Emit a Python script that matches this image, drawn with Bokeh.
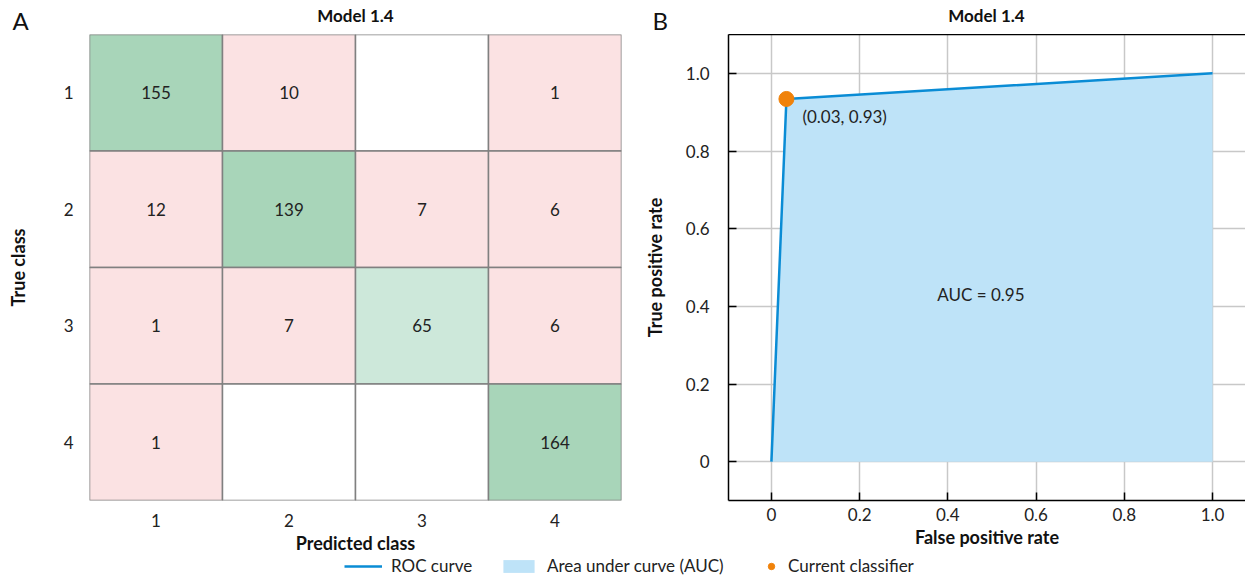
from bokeh.plotting import figure
from bokeh.layouts import column, row
from bokeh.models import (ColumnDataSource, Label, Legend, LegendItem, LinearAxis,
                          CustomJSTickFormatter, FixedTicker, Range1d)
from bokeh.core.properties import value
from bokeh.embed import file_html
from bokeh.resources import INLINE

# ---------------- data ----------------
classes = [1, 2, 3, 4]
counts = [
    [155, 10, 0, 1],
    [12, 139, 7, 6],
    [1, 7, 65, 6],
    [1, 0, 0, 164],
]
roc_fpr = [0.0, 0.034, 1.0]
roc_tpr = [0.0, 0.934, 1.0]
point_fpr = [0.034]
point_tpr = [0.934]
point_label = "(0.03, 0.93)"
auc_text = "AUC = 0.95"
auc_pos = (0.475, 0.43)
roc_ticks = [0, 0.2, 0.4, 0.6, 0.8, 1.0]
chart_title = "Model 1.4"
panel_letters = ["A", "B"]

FONT = "Lato"
TXT = "#222222"
GREEN = "#a8d5b9"
LIGHT_GREEN = "#cde8da"
PINK = "#fbe2e3"
BLUE = "#0a8cd5"
AREA = "#bee3f8"
ORANGE = "#f0820a"
FS = "17px"
FS_B = "18px"

# layout constants (pixels)
W_TOTAL, H_TOTAL = 1245, 577
TOP_H = 34          # strip with panel letters and titles
LEG_H = 21          # legend strip
ROW_H = H_TOTAL - TOP_H - LEG_H
WA, WB = 640, 605
A_LEFT, A_RIGHT = 89, 19
B_LEFT = 87
BOTTOM = 51

# ---------------- confusion matrix ----------------
xs, ys, vals, cols, labels = [], [], [], [], []
for i, r in enumerate(classes):
    for j, c in enumerate(classes):
        v = counts[i][j]
        xs.append(c)
        ys.append(r)
        vals.append(v)
        if v == 0:
            cols.append("#ffffff")
        elif i == j:
            cols.append(GREEN if v >= 100 else LIGHT_GREEN)
        else:
            cols.append(PINK)
        labels.append(str(v) if v else "")
src = ColumnDataSource(dict(x=xs, y=ys, v=vals, c=cols, t=labels))

pA = figure(width=WA, height=ROW_H, x_range=Range1d(0.5, 4.5), y_range=Range1d(4.5, 0.5),
            output_backend="svg", toolbar_location=None,
            min_border_left=A_LEFT, min_border_right=A_RIGHT, min_border_top=0,
            min_border_bottom=BOTTOM)
pA.rect(x="x", y="y", width=1, height=1, fill_color="c", line_color="#808080",
        line_width=1.5, source=src)
pA.text(x="x", y="y", text="t", text_align="center", text_baseline="middle",
        text_font=value(FONT), text_font_size=FS, text_color=TXT, source=src)
pA.grid.visible = False
pA.outline_line_color = None
for ax in (pA.xaxis[0], pA.yaxis[0]):
    ax.ticker = FixedTicker(ticks=classes)
    ax.axis_line_color = None
    ax.major_tick_line_color = None
    ax.minor_tick_line_color = None
    ax.major_label_text_font = FONT
    ax.major_label_text_font_size = FS
    ax.major_label_text_color = TXT
    ax.axis_label_text_font = FONT
    ax.axis_label_text_font_size = FS_B
    ax.axis_label_text_font_style = "bold"
    ax.axis_label_text_color = "#111111"
pA.xaxis.axis_label = "Predicted class"
pA.yaxis.axis_label = "True class"
pA.xaxis.major_label_standoff = 7
pA.xaxis.axis_label_standoff = 2
pA.yaxis.major_label_standoff = 10
pA.yaxis.axis_label_standoff = 32

# ---------------- ROC ----------------
pB = figure(width=WB, height=ROW_H, x_range=Range1d(-0.0973, 1.0747), y_range=Range1d(-0.1, 1.1),
            output_backend="svg", toolbar_location=None,
            min_border_left=B_LEFT, min_border_right=0, min_border_top=0,
            min_border_bottom=BOTTOM)
pB.outline_line_color = None
for ax in (pB.xaxis[0], pB.yaxis[0]):
    ax.ticker = FixedTicker(ticks=roc_ticks)
    ax.formatter = CustomJSTickFormatter(code="return tick == 0 ? '0' : tick.toFixed(1);")
    ax.axis_line_color = "black"
    ax.axis_line_width = 1.5
    ax.major_tick_in = 8
    ax.major_tick_out = 0
    ax.major_tick_line_color = "black"
    ax.major_tick_line_width = 1.5
    ax.minor_tick_line_color = None
    ax.major_label_text_font = FONT
    ax.major_label_text_font_size = FS
    ax.major_label_text_color = TXT
    ax.axis_label_text_font = FONT
    ax.axis_label_text_font_size = FS_B
    ax.axis_label_text_font_style = "bold"
    ax.axis_label_text_color = "#111111"
pB.xaxis[0].axis_label = "False positive rate"
pB.yaxis[0].axis_label = "True positive rate"
pB.xaxis[0].major_label_standoff = 7
pB.xaxis[0].axis_label_standoff = 2
pB.yaxis[0].major_label_standoff = 19
pB.yaxis[0].axis_label_standoff = 17
top = LinearAxis(ticker=FixedTicker(ticks=[]), major_tick_line_color=None,
                 minor_tick_line_color=None, axis_line_color="black", axis_line_width=1.5,
                 major_label_standoff=0, major_tick_in=0, major_tick_out=0,
                 minor_tick_in=0, minor_tick_out=0)
pB.add_layout(top, "above")
pB.grid.grid_line_color = "#c8c8c8"
pB.grid.grid_line_width = 1.5

pB.varea(x=roc_fpr, y1=[0] * len(roc_fpr), y2=roc_tpr, fill_color=AREA)
pB.line(x=roc_fpr, y=roc_tpr, line_color=BLUE, line_width=2.5)
pB.scatter(x=point_fpr, y=point_tpr, size=15, fill_color=ORANGE, line_color=ORANGE)
pB.add_layout(Label(x=point_fpr[0], y=point_tpr[0], x_offset=16, y_offset=-18, text=point_label,
                    text_font=FONT, text_font_size=FS, text_color=TXT,
                    text_baseline="middle", text_align="left"))
pB.add_layout(Label(x=auc_pos[0], y=auc_pos[1], text=auc_text, text_font=FONT,
                    text_font_size=FS, text_color=TXT, text_baseline="middle",
                    text_align="center"))

# ---------------- top strip: panel letters and titles ----------------
pT = figure(width=W_TOTAL, height=TOP_H, x_range=Range1d(0, 1), y_range=Range1d(0, 1),
            output_backend="svg", toolbar_location=None, min_border=0)
pT.axis.visible = False
pT.grid.visible = False
pT.outline_line_color = None
a_frame_w = WA - A_LEFT - A_RIGHT
b_frame_w = WB - B_LEFT
title_x = [A_LEFT + a_frame_w / 2, WA + B_LEFT + b_frame_w / 2]
letter_x = [12, WA + 12]
for lx, tx, letter in zip(letter_x, title_x, panel_letters):
    pT.add_layout(Label(x=lx, y=TOP_H - 19.5, x_units="screen", y_units="screen", text=letter,
                        text_font=FONT, text_font_size="24px", text_baseline="middle",
                        text_align="left", text_color="#111111"))
    pT.add_layout(Label(x=tx, y=TOP_H - 15, x_units="screen", y_units="screen",
                        text=chart_title, text_font=FONT, text_font_size=FS,
                        text_font_style="bold", text_baseline="middle", text_align="center",
                        text_color="#111111"))

# ---------------- legend strip ----------------
pL = figure(width=W_TOTAL, height=LEG_H, x_range=Range1d(0, 1), y_range=Range1d(0, 1),
            output_backend="svg", toolbar_location=None, min_border=0)
pL.axis.visible = False
pL.grid.visible = False
pL.outline_line_color = None
off = [5.0]
r1 = pL.line(x=off, y=off, line_color=BLUE, line_width=2.5)
r2 = pL.varea(x=off, y1=off, y2=off, fill_color=AREA)
r3 = pL.scatter(x=off, y=off, size=15, fill_color=ORANGE, line_color=ORANGE)
for rend, lab, lx, gw in ((r1, "ROC curve", 344, 38),
                          (r2, "Area under curve (AUC)", 499, 39),
                          (r3, "Current classifier", 763, 16)):
    lg = Legend(items=[LegendItem(label=lab, renderers=[rend])], location=(lx, 1),
                orientation="horizontal", border_line_color=None, background_fill_alpha=0,
                padding=0, margin=0, glyph_width=gw, glyph_height=16, label_standoff=9,
                label_height=20,
                label_text_font=FONT, label_text_font_size=FS, label_text_color=TXT)
    pL.add_layout(lg)

layout = column(pT, row(pA, pB), pL)
open("out.html", "w").write(file_html(layout, INLINE))
